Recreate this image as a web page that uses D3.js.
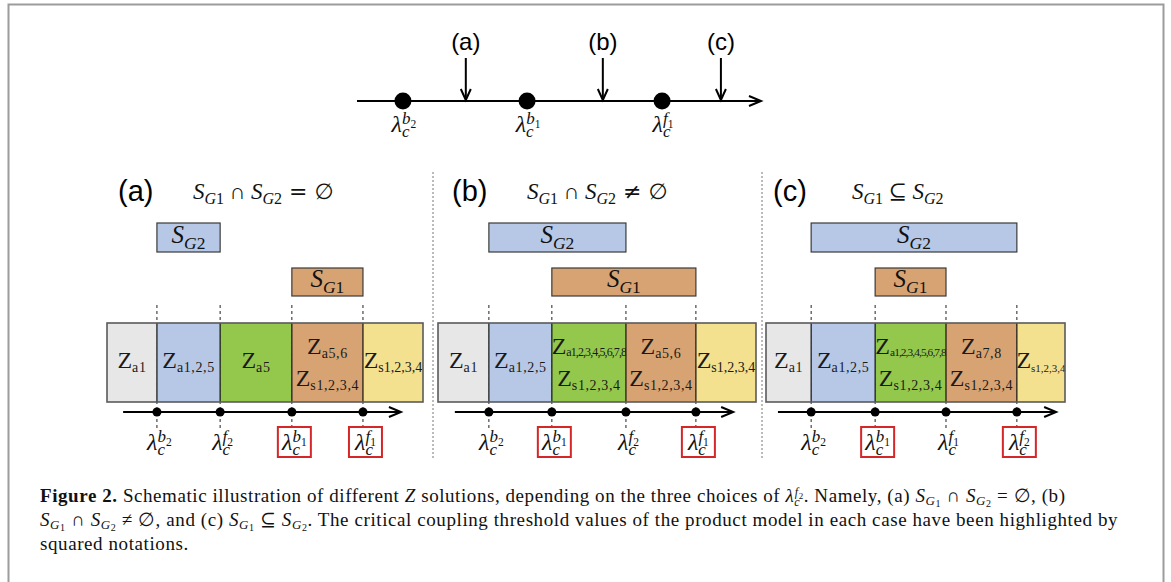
<!DOCTYPE html>
<html><head><meta charset="utf-8">
<script src="https://cdn.jsdelivr.net/npm/d3@7"></script>
<style>
body{margin:0;background:#fff}
svg{display:block}
</style></head><body>
<svg id="fig" width="1171" height="582"></svg>
<script>
// ---------- data ----------
// top overview axis: critical points and the three choices of lambda_c^{f2}
const topMarkNames = ["b2", "b1", "f1"];
const topMarkPos = [11.4, 42.2, 75.7];
const caseNames = ["(a)", "(b)", "(c)"];
const casePos = [27.0, 61.0, 90.3];

// panels
const panelTags = ["(a)", "(b)", "(c)"];
const relationOps = ["∩", "∩", "⊆"];
const relationTails = [" = ∅", " ≠ ∅", ""];
const thresholdPos = [
  [15.8, 35.8, 58.5, 81.0],
  [16.0, 35.8, 59.1, 81.1],
  [15.1, 36.5, 60.2, 83.9]
];
const thresholdNames = [
  ["b2", "f2", "b1", "f1"],
  ["b2", "b1", "f2", "f1"],
  ["b2", "b1", "f1", "f2"]
];
const criticalFlags = [[0, 0, 1, 1], [0, 1, 0, 1], [0, 1, 0, 1]];
const regionSubs = [
  [["a1"], ["a1,2,5"], ["a5"], ["a5,6", "s1,2,3,4"], ["s1,2,3,4"]],
  [["a1"], ["a1,2,5"], ["a1,2,3,4,5,6,7,8", "s1,2,3,4"], ["a5,6", "s1,2,3,4"], ["s1,2,3,4"]],
  [["a1"], ["a1,2,5"], ["a1,2,3,4,5,6,7,8", "s1,2,3,4"], ["a7,8", "s1,2,3,4"], ["s1,2,3,4"]]
];
const regionColors = ["#e8e7e7", "#b6c8e6", "#94c84c", "#d8a372", "#f3e18f"];
const sg2Span = [[0, 1], [0, 2], [0, 3]];   // threshold indices bounding S_G2
const sg1Span = [[2, 3], [1, 3], [1, 2]];   // threshold indices bounding S_G1

// ---------- layout ----------
const panelX = [[107, 423], [438, 756], [766, 1065]];
const axisDomain = [[5.1, 92.7], [5.3, 92.5], [4.0, 96.7]];
const tagOffset = [11, 14, 7];
const relOffset = [86, 89, 86];
const serif = '"Liberation Serif","DejaVu Serif",serif';
const sans = '"Liberation Sans",Arial,sans-serif';

const svg = d3.select("#fig");

// outer frame
svg.append("rect").attr("x", 8.5).attr("y", 4.5).attr("width", 1155).attr("height", 620)
  .attr("fill", "none").attr("stroke", "#9c9c9c").attr("stroke-width", 2);

// rich text helper: segments [text, {size, italic, bold, shift, dx, ls}]
function rich(sel, segs, base) {
  let cur = 0;
  const spans = [];
  segs.forEach(([t, o]) => {
    o = Object.assign({}, base, o || {});
    const shift = o.shift || 0;
    const ts = sel.append("tspan").text(t)
      .attr("font-size", o.size)
      .attr("font-style", o.italic ? "italic" : "normal")
      .attr("font-weight", o.bold ? "bold" : "normal")
      .attr("dy", shift - cur);
    if (o.dx) ts.attr("dx", o.dx);
    if (o.ls != null) ts.attr("letter-spacing", o.ls);
    if (o.family) ts.attr("font-family", o.family);
    cur = shift;
    spans.push(ts);
  });
  return spans;
}

// lambda_c^{x_n}
function lambdaLabel(g, x, y) {
  return name => {
    const t = g.append("text").attr("x", x).attr("y", y).attr("text-anchor", "middle")
      .attr("font-family", serif).attr("fill", "#111");
    rich(t, [
      ["λ", { size: 24, italic: true }],
      ["c", { size: 17, italic: true, shift: 5 }],
      [name[0], { size: 17, italic: true, shift: -8.5, dx: -7.5 }],
      [name[1], { size: 11.5, shift: -4.5 }]
    ], {});
    return t;
  };
}

function sLabel(g, x, y, idx, size) {
  const t = g.append("text").attr("x", x).attr("y", y).attr("text-anchor", "middle")
    .attr("font-family", serif).attr("fill", "#111");
  rich(t, [["S", { size: size, italic: true }], ["G", { size: size * 0.7, italic: true, shift: size * 0.24 }],
    [idx, { size: size * 0.7, shift: size * 0.24 }]], {});
  return t;
}

// ---------- top overview axis ----------
const topG = svg.append("g");
const tx = d3.scaleLinear().domain([0, 100]).range([357, 760]);
const topY = 101;
topG.append("line").attr("x1", tx(0)).attr("x2", tx(100)).attr("y1", topY).attr("y2", topY)
  .attr("stroke", "#000").attr("stroke-width", 2);
topG.append("path").attr("d", `M${tx(100) - 11},${topY - 5}L${tx(100) + 1},${topY}L${tx(100) - 11},${topY + 5}`)
  .attr("fill", "none").attr("stroke", "#000").attr("stroke-width", 2);
topMarkNames.forEach((n, i) => {
  topG.append("circle").attr("cx", tx(topMarkPos[i])).attr("cy", topY).attr("r", 8.5).attr("fill", "#000");
  lambdaLabel(topG, tx(topMarkPos[i]) + 1, 132)(n);
});
caseNames.forEach((c, i) => {
  const x = tx(casePos[i]);
  topG.append("line").attr("x1", x).attr("x2", x).attr("y1", 58).attr("y2", topY - 2)
    .attr("stroke", "#000").attr("stroke-width", 2);
  topG.append("path").attr("d", `M${x - 5},${topY - 12}L${x},${topY - 1}L${x + 5},${topY - 12}`)
    .attr("fill", "none").attr("stroke", "#000").attr("stroke-width", 2);
  topG.append("text").attr("x", x).attr("y", 50).attr("text-anchor", "middle")
    .attr("font-family", sans).attr("font-size", 24).text(c);
});

// ---------- panel separators ----------
[433, 762].forEach(x => {
  svg.append("line").attr("x1", x).attr("x2", x).attr("y1", 172).attr("y2", 460)
    .attr("stroke", "#777").attr("stroke-width", 1).attr("stroke-dasharray", "2,2");
});

// ---------- panels ----------
const barTop = 323, barBot = 402, axisY = 412;
panelTags.forEach((tag, p) => {
  const g = svg.append("g");
  const x = d3.scaleLinear().domain([0, 100]).range(panelX[p]);
  const th = thresholdPos[p];
  const bounds = [0, ...th, 100];

  // header
  g.append("text").attr("x", panelX[p][0] + tagOffset[p]).attr("y", 201)
    .attr("font-family", sans).attr("font-size", 29).text(tag);
  const rel = g.append("text").attr("x", panelX[p][0] + relOffset[p]).attr("y", 199)
    .attr("font-family", serif).attr("fill", "#111");
  rich(rel, [["S", { size: 23, italic: true }], ["G", { size: 16, italic: true, shift: 5 }], ["1", { size: 16, shift: 5 }],
    [" " + relationOps[p] + " ", { size: 22 }], ["S", { size: 23, italic: true }],
    ["G", { size: 16, italic: true, shift: 5 }], ["2", { size: 16, shift: 5 }],
    [relationTails[p], { size: 22, family: '"DejaVu Sans",sans-serif' }]], {});

  // set boxes
  const boxes = [[sg2Span[p], 223, 252, "2", regionColors[1]], [sg1Span[p], 268, 296, "1", regionColors[3]]];
  boxes.forEach(([sp, y0, y1, idx, col]) => {
    const xa = x(th[sp[0]]), xb = x(th[sp[1]]);
    g.append("rect").attr("x", xa).attr("y", y0).attr("width", xb - xa).attr("height", y1 - y0)
      .attr("fill", col).attr("stroke", "#3a3a3a").attr("stroke-width", 1.2);
    sLabel(g, (xa + xb) / 2, y1 - 9, idx, 25);
  });

  // dashed threshold guides
  th.forEach(v => {
    g.append("line").attr("x1", x(v)).attr("x2", x(v)).attr("y1", 305).attr("y2", 428)
      .attr("stroke", "#222").attr("stroke-width", 1).attr("stroke-dasharray", "3,3");
  });

  // regions
  d3.range(5).forEach(r => {
    const xa = x(bounds[r]), xb = x(bounds[r + 1]);
    g.append("rect").attr("x", xa).attr("y", barTop).attr("width", xb - xa).attr("height", barBot - barTop)
      .attr("fill", regionColors[r]);
    const subs = regionSubs[p][r];
    const ys = subs.length === 1 ? [368] : [354, 386];
    subs.forEach((s, k) => {
      const long = s.length > 10;
      const t = g.append("text").attr("x", (xa + xb) / 2).attr("y", ys[k]).attr("text-anchor", "middle")
        .attr("font-family", serif).attr("fill", "#1a1a1a");
      let subSize = long ? 12.5 : 14;
      const spans = rich(t, [["Z", { size: 24 }], [s, { size: subSize, shift: long ? 2 : 4, ls: long ? -0.9 : 0.6 }]], {});
      // tighten, then shrink, the subscript when it would spill out of its region
      const avail = xb - xa + 1;
      const zw = spans[0].node().getComputedTextLength();
      let w = t.node().getComputedTextLength();
      if (w > avail && !long) {
        spans[1].attr("letter-spacing", 0);
        w = t.node().getComputedTextLength();
      }
      if (w > avail) {
        subSize = subSize * (avail - zw) / (w - zw);
        spans[1].attr("font-size", subSize);
      }
    });
  });
  th.forEach(v => {
    g.append("line").attr("x1", x(v)).attr("x2", x(v)).attr("y1", barTop).attr("y2", barBot)
      .attr("stroke", "#111").attr("stroke-width", 1.2);
  });
  g.append("rect").attr("x", x(0)).attr("y", barTop).attr("width", x(100) - x(0)).attr("height", barBot - barTop)
    .attr("fill", "none").attr("stroke", "#5a5a5a").attr("stroke-width", 1.6);

  // lambda axis
  const a0 = x(axisDomain[p][0]), a1 = x(axisDomain[p][1]);
  g.append("line").attr("x1", a0).attr("x2", a1).attr("y1", axisY).attr("y2", axisY)
    .attr("stroke", "#000").attr("stroke-width", 2);
  g.append("path").attr("d", `M${a1 - 11},${axisY - 5}L${a1 + 1},${axisY}L${a1 - 11},${axisY + 5}`)
    .attr("fill", "none").attr("stroke", "#000").attr("stroke-width", 2);
  th.forEach((v, k) => {
    g.append("circle").attr("cx", x(v)).attr("cy", axisY).attr("r", 4.5).attr("fill", "#000");
    const cx = x(v) + 2.5;
    if (criticalFlags[p][k]) {
      g.append("rect").attr("x", cx - 16.5).attr("y", 427).attr("width", 33).attr("height", 30)
        .attr("fill", "#fff").attr("stroke", "#d62728").attr("stroke-width", 2);
    }
    lambdaLabel(g, cx, 450)(thresholdNames[p][k]);
  });
});

// ---------- caption ----------
const cap = svg.append("g").attr("font-family", serif).attr("fill", "#111");
const SG = i => [["S", { italic: true }], ["G", { italic: true, size: 13, shift: 3 }], [i, { size: 10, shift: 5 }]];
const captionLines = [
  [["Figure 2.", { bold: true }], [" Schematic illustration of different "], ["Z", { italic: true }],
    [" solutions, depending on the three choices of "], ["λ", { italic: true }],
    ["c", { italic: true, size: 12, shift: 4 }], ["f", { italic: true, size: 12, shift: -6, dx: -5.5 }],
    ["2", { size: 9, shift: -3 }], [". Namely, (a) "], ...SG("1"), [" ∩ "], ...SG("2"), [" = ∅, (b)"]],
  [...SG("1"), [" ∩ "], ...SG("2"), [" ≠ ∅, and (c) "], ...SG("1"), [" ⊆ "], ...SG("2"),
    [". The critical coupling threshold values of the product model in each case have been highlighted by"]],
  [["squared notations."]]
];
const capTargets = [1031, 1078, null];
const capBase = [502, 526, 550];
let lsUsed = 0;
captionLines.forEach((segs, i) => {
  const t = cap.append("text").attr("x", 40).attr("y", capBase[i]);
  rich(t, segs, { size: 19 });
  if (capTargets[i]) {
    const w = t.node().getComputedTextLength();
    const n = t.text().length;
    lsUsed = (capTargets[i] - w) / n;
  }
  t.attr("letter-spacing", lsUsed);
});
</script>
</body></html>
